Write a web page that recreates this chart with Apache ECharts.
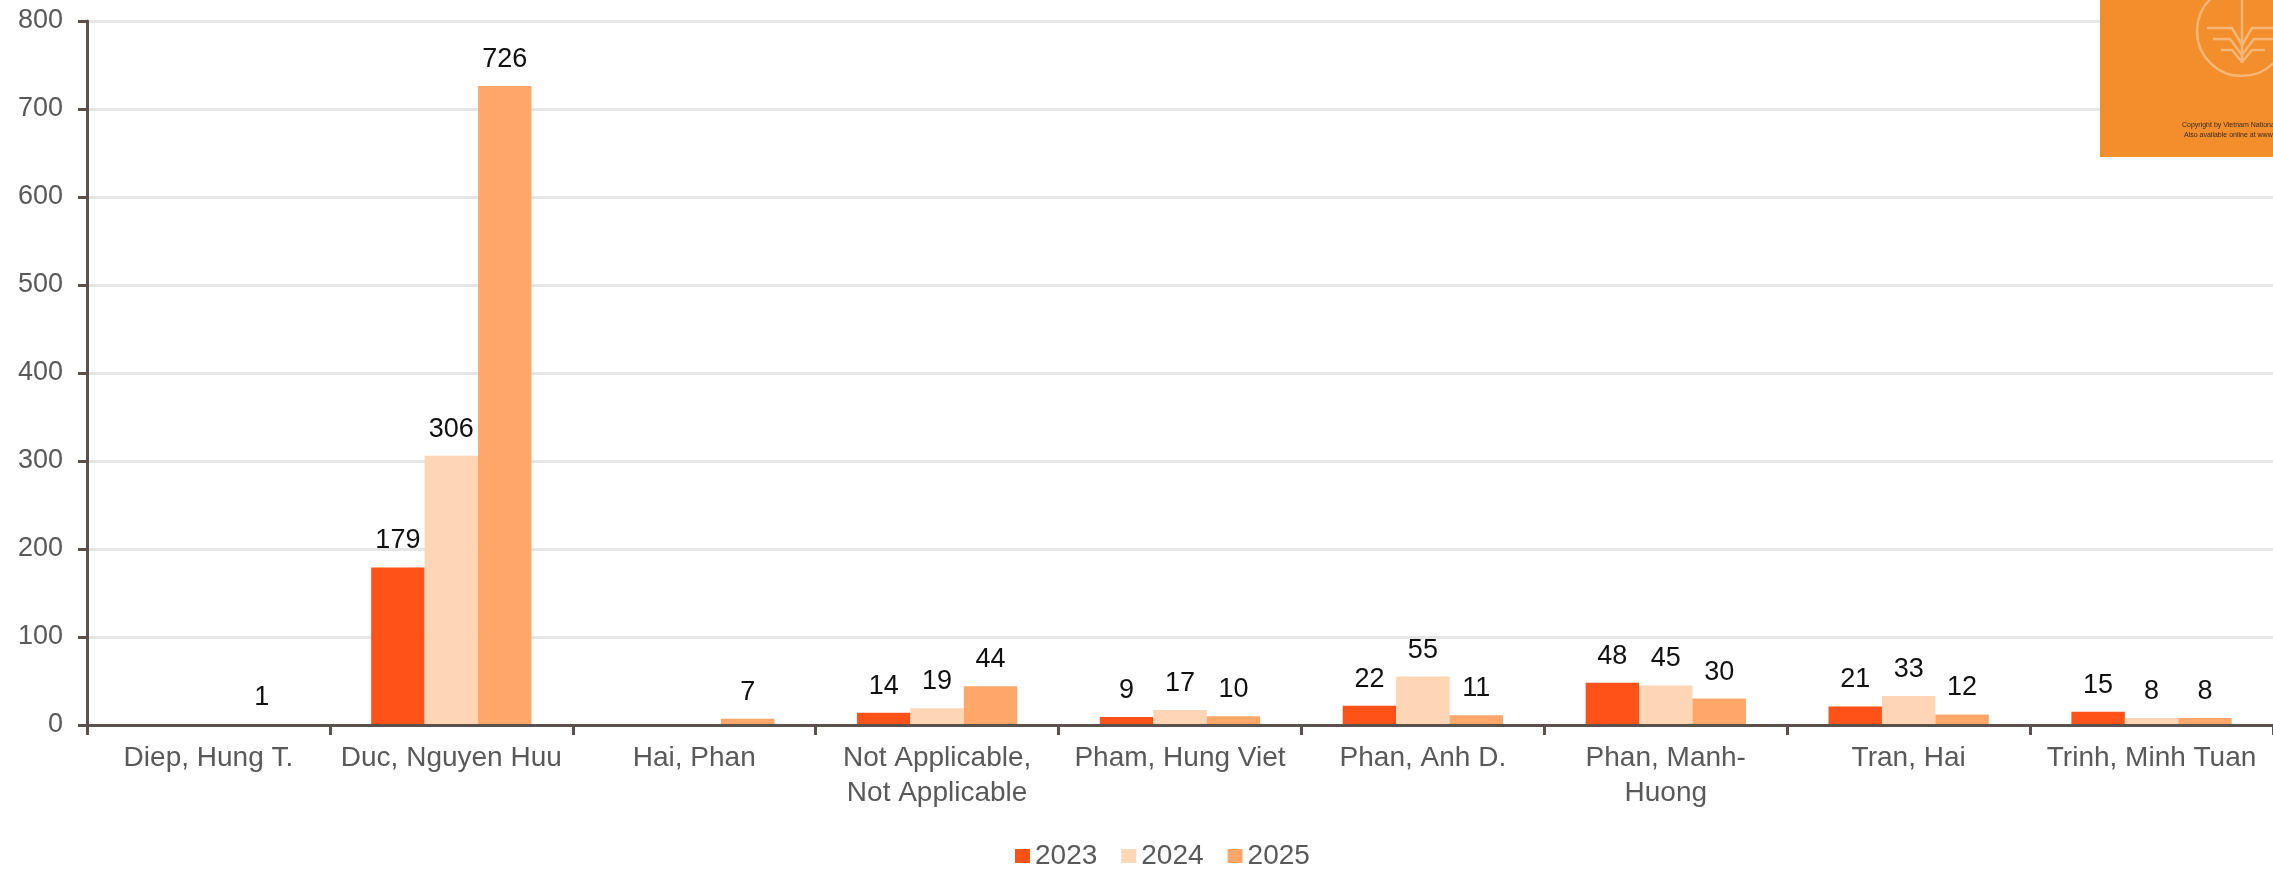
<!DOCTYPE html>
<html>
<head>
<meta charset="utf-8">
<script src="https://cdn.jsdelivr.net/npm/echarts@6/dist/echarts.min.js"></script>
<style>
html,body{margin:0;padding:0;background:#fff;}
#chart{width:2273px;height:869px;}
</style>
</head>
<body>
<div id="chart"></div>
<script>
const categories = ['Diep, Hung T.', 'Duc, Nguyen Huu', 'Hai, Phan', 'Not Applicable,\nNot Applicable', 'Pham, Hung Viet', 'Phan, Anh D.', 'Phan, Manh-\nHuong', 'Tran, Hai', 'Trinh, Minh Tuan'];
const seriesNames = ['2023', '2024', '2025'];
const values2023 = [null, 179, null, 14, 9, 22, 48, 21, 15];
const values2024 = [null, 306, null, 19, 17, 55, 45, 33, 8];
const values2025 = [1, 726, 7, 44, 10, 11, 30, 12, 8];
const yTicks = [0, 100, 200, 300, 400, 500, 600, 700, 800];

const colors = ['#FF5218', '#FFD6B5', '#FFA76A'];
const FONT = '"Liberation Sans", Arial, sans-serif';
const chart = echarts.init(document.getElementById('chart'));

function mk(name, data, color) {
  return {
    name: name,
    type: 'bar',
    data: data,
    barGap: '0%',
    barCategoryGap: '34%',
    itemStyle: { color: color },
    label: {
      show: true,
      position: 'top',
      distance: 13,
      color: '#111',
      fontSize: 27,
      fontFamily: FONT
    },
    emphasis: { disabled: true }
  };
}

chart.setOption({
  animation: false,
  textStyle: { fontFamily: FONT },
  grid: { left: 87, right: 0, top: 21, bottom: 144, containLabel: false },
  legend: {
    data: seriesNames,
    left: 1010,
    top: 837,
    itemWidth: 15,
    itemHeight: 14,
    itemGap: 24,
    icon: 'rect',
    textStyle: { fontSize: 28, color: '#595959', fontFamily: FONT }
  },
  xAxis: {
    type: 'category',
    data: categories,
    z: 5,
    axisLine: { lineStyle: { color: '#5a514c', width: 3 } },
    axisTick: { show: true, alignWithLabel: false, length: 10, lineStyle: { color: '#5a514c', width: 3 } },
    axisLabel: { color: '#595959', fontSize: 28, margin: 16, lineHeight: 35, fontFamily: FONT, interval: 0 },
    splitLine: { show: false }
  },
  yAxis: {
    type: 'value',
    min: yTicks[0],
    max: yTicks[yTicks.length - 1],
    interval: 100,
    axisLine: { show: true, lineStyle: { color: '#5a514c', width: 3 } },
    axisTick: { show: true, length: 9, lineStyle: { color: '#5a514c', width: 3 } },
    axisLabel: { color: '#595959', fontSize: 27, margin: 24, fontFamily: FONT },
    splitLine: { lineStyle: { color: '#e6e6e6', width: 3 } }
  },
  series: [
    mk(seriesNames[0], values2023, colors[0]),
    mk(seriesNames[1], values2024, colors[1]),
    mk(seriesNames[2], values2025, colors[2])
  ],
  graphic: [
    { type: 'rect', shape: { x: 2100, y: 0, width: 173, height: 157 }, style: { fill: '#F28E2C' }, z: 100 },
    { type: 'circle', shape: { cx: 2242, cy: 31, r: 45 }, style: { fill: 'none', stroke: '#F6B675', lineWidth: 2.5 }, z: 101 },
    { type: 'line', shape: { x1: 2242, y1: 0, x2: 2242, y2: 63 }, style: { stroke: '#F6B675', lineWidth: 2.5 }, z: 101 },
    { type: 'polyline', shape: { points: [[2207, 28], [2232, 28], [2242, 45]] }, style: { stroke: '#F6B675', lineWidth: 2.5, fill: 'none' }, z: 101 },
    { type: 'polyline', shape: { points: [[2213, 39], [2230, 39], [2242, 55]] }, style: { stroke: '#F6B675', lineWidth: 2.5, fill: 'none' }, z: 101 },
    { type: 'polyline', shape: { points: [[2221, 50], [2232, 50], [2242, 62]] }, style: { stroke: '#F6B675', lineWidth: 2.5, fill: 'none' }, z: 101 },
    { type: 'polyline', shape: { points: [[2273, 28], [2252, 28], [2242, 45]] }, style: { stroke: '#F6B675', lineWidth: 2.5, fill: 'none' }, z: 101 },
    { type: 'polyline', shape: { points: [[2273, 39], [2254, 39], [2242, 55]] }, style: { stroke: '#F6B675', lineWidth: 2.5, fill: 'none' }, z: 101 },
    { type: 'polyline', shape: { points: [[2265, 50], [2252, 50], [2242, 62]] }, style: { stroke: '#F6B675', lineWidth: 2.5, fill: 'none' }, z: 101 },
    { type: 'text', x: 2182, y: 122, style: { text: 'Copyright by Vietnam National University', font: '7px ' + FONT, fill: '#3b2a1c' }, z: 102 },
    { type: 'text', x: 2184, y: 132, style: { text: 'Also available online at www.vnu.edu.vn', font: '7px ' + FONT, fill: '#3b2a1c' }, z: 102 }
  ]
});
</script>
</body>
</html>
